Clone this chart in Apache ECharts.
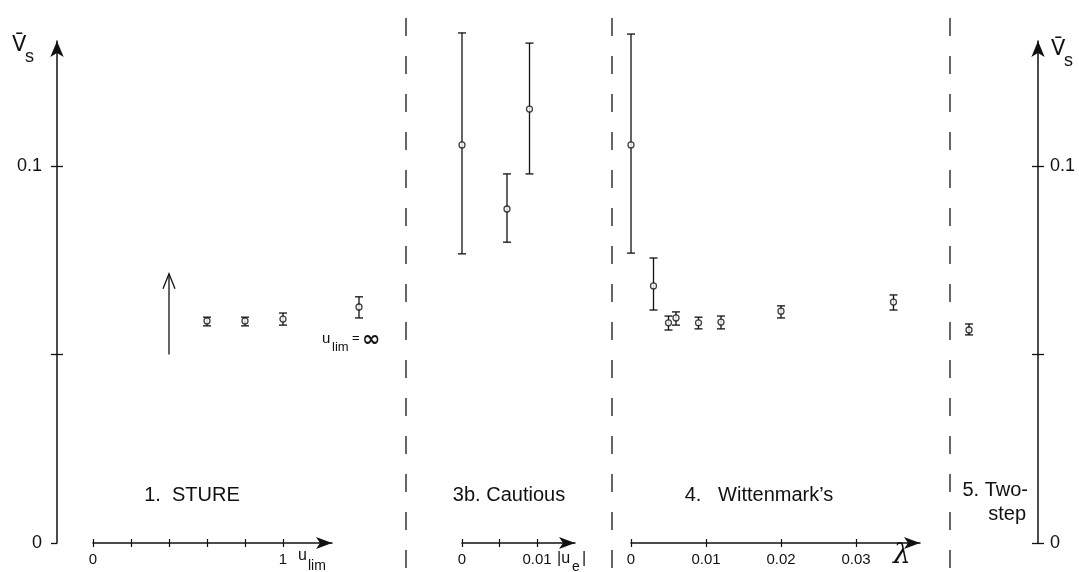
<!DOCTYPE html>
<html>
<head>
<meta charset="utf-8">
<script src="https://cdn.jsdelivr.net/npm/echarts@6/dist/echarts.min.js"></script>
<style>
html, body { margin: 0; background: #fff; }
#chart { width: 1079px; height: 572px; }
</style>
</head>
<body>
<div id="chart"></div>
<script>
/* V_s values, one set of arrays per panel */
var yTicks = [0, 0.05, 0.1];
var yLabels = [0, 0.1];

// 1. STURE  (last point is u_lim = inf, drawn right of the axis arrow)
var stureU  = [0.6, 0.8, 1.0, 1.4];
var stureV  = [0.0589, 0.0589, 0.0594, 0.0626];
var stureLo = [0.0576, 0.0576, 0.0578, 0.0597];
var stureHi = [0.0599, 0.0599, 0.0610, 0.0653];
var stureArrow = [0.4, 0.05, 0.0714];   // u, from, to
var stureTicks = [0, 0.2, 0.4, 0.6, 0.8, 1];
var stureLabels = [0, 1];

// 3b. Cautious
var cautU  = [0, 0.006, 0.009];
var cautV  = [0.1056, 0.0886, 0.1151];
var cautLo = [0.0767, 0.0798, 0.0979];
var cautHi = [0.1353, 0.0979, 0.1326];
var cautTicks = [0, 0.005, 0.01];
var cautLabels = [0, 0.01];

// 4. Wittenmark's
var wittL  = [0, 0.003, 0.005, 0.006, 0.009, 0.012, 0.02, 0.035];
var wittV  = [0.1056, 0.0682, 0.0584, 0.0597, 0.0584, 0.0586, 0.0615, 0.0639];
var wittLo = [0.0769, 0.0618, 0.0565, 0.0578, 0.0568, 0.0568, 0.0597, 0.0618];
var wittHi = [0.1350, 0.0756, 0.0602, 0.0613, 0.0599, 0.0602, 0.0629, 0.0658];
var wittTicks = [0, 0.01, 0.02, 0.03];

// 5. Two-step
var twoCat = ['Two-step'];
var twoV  = [0.0565];
var twoLo = [0.0552];
var twoHi = [0.0581];

var YMAX = 0.13316;
var INK = '#111';
var FONT = 'Liberation Sans';

/* helpers */
function errSeries(xi, yi, xs, lo, hi) {
    return {
        type: 'custom', xAxisIndex: xi, yAxisIndex: yi, clip: false, silent: true, z: 2,
        data: xs.map(function (x, i) { return [x, lo[i], hi[i]]; }),
        renderItem: function (params, api) {
            var a = api.coord([api.value(0), api.value(1)]);
            var b = api.coord([api.value(0), api.value(2)]);
            var w = 4, st = { stroke: INK, lineWidth: 1.3 };
            return { type: 'group', children: [
                { type: 'line', shape: { x1: a[0], y1: a[1], x2: b[0], y2: b[1] }, style: st },
                { type: 'line', shape: { x1: a[0] - w, y1: a[1], x2: a[0] + w, y2: a[1] }, style: st },
                { type: 'line', shape: { x1: b[0] - w, y1: b[1], x2: b[0] + w, y2: b[1] }, style: st }
            ]};
        }
    };
}
function dotSeries(xi, yi, xs, vs) {
    return {
        type: 'scatter', xAxisIndex: xi, yAxisIndex: yi, z: 3, silent: true,
        data: xs.map(function (x, i) { return [x, vs[i]]; }),
        symbol: 'circle', symbolSize: 6,
        itemStyle: { color: '#fff', borderColor: INK, borderWidth: 1.3 }
    };
}
function hiddenY(g) {
    return { type: 'value', gridIndex: g, min: 0, max: YMAX, show: false, splitLine: { show: false } };
}
function xMain(g, max, ticks, labels) {
    return {
        type: 'value', gridIndex: g, min: 0, max: max, position: 'bottom',
        axisLine: { show: true, symbol: ['none', 'arrow'], symbolSize: [9, 16], lineStyle: { color: INK, width: 1.5 } },
        axisTick: { show: true, customValues: ticks, length: 4, lineStyle: { color: INK, width: 1.2 } },
        axisLabel: { customValues: labels, color: INK, fontSize: 15, fontFamily: FONT, margin: 9 },
        splitLine: { show: false }
    };
}
function xInner(g, max, ticks) {
    return {
        type: 'value', gridIndex: g, min: 0, max: max, position: 'bottom',
        axisLine: { show: false },
        axisTick: { show: true, inside: true, customValues: ticks, length: 4, lineStyle: { color: INK, width: 1.2 } },
        axisLabel: { show: false }, splitLine: { show: false }
    };
}
function txt(x, y, s, size, extra) {
    var st = { text: s, x: x, y: y, fill: INK, font: size + 'px "' + FONT + '"', align: 'left', verticalAlign: 'middle' };
    for (var k in extra) st[k] = extra[k];
    return { type: 'text', silent: true, style: st };
}
function dash(x) {
    return { type: 'line', silent: true, shape: { x1: x, y1: 18, x2: x, y2: 572 },
        style: { stroke: '#333', lineWidth: 1.5, lineDash: [18, 20] } };
}

var grids = [
    { left: 57,  top: 41, width: 981, height: 502 },   // frame with both V_s axes
    { left: 93,  top: 41, width: 285, height: 502 },   // STURE data
    { left: 93,  top: 41, width: 239, height: 502 },   // u_lim axis
    { left: 462, top: 41, width: 113, height: 502 },   // |u_e| axis + data
    { left: 631, top: 41, width: 289, height: 502 },   // lambda axis + data
    { left: 955, top: 41, width: 28,  height: 502 }    // two-step
];
grids.forEach(function (g) { g.outerBoundsMode = 'none'; g.containLabel = false; });

var option = {
    backgroundColor: '#fff',
    animation: false,
    grid: grids,
    xAxis: [
        { type: 'value', gridIndex: 0, min: 0, max: 1, show: false, splitLine: { show: false } },
        { type: 'value', gridIndex: 1, min: 0, max: 1.5, show: false, splitLine: { show: false } },
        xMain(2, 239 / 190, stureTicks, stureLabels),
        xInner(2, 239 / 190, stureTicks),
        xMain(3, 0.113 / 7.5, cautTicks, cautLabels),
        xInner(3, 0.113 / 7.5, cautTicks),
        xMain(4, 0.289 / 7.5, wittTicks, wittTicks),
        xInner(4, 0.289 / 7.5, wittTicks),
        { type: 'category', gridIndex: 5, data: twoCat, show: false }
    ],
    yAxis: [
        {
            type: 'value', gridIndex: 0, min: 0, max: YMAX, position: 'left',
            axisLine: { show: true, symbol: ['none', 'arrow'], symbolSize: [10, 16], lineStyle: { color: INK, width: 1.5 } },
            axisTick: { show: true, customValues: yTicks, length: 6, lineStyle: { color: INK, width: 1.3 } },
            axisLabel: { customValues: yLabels, color: INK, fontSize: 18, fontFamily: FONT, margin: 15 },
            splitLine: { show: false }
        },
        {
            type: 'value', gridIndex: 0, min: 0, max: YMAX, position: 'right',
            axisLine: { show: true, symbol: ['none', 'arrow'], symbolSize: [10, 16], lineStyle: { color: INK, width: 1.5 } },
            axisTick: { show: true, customValues: yTicks, length: 6, lineStyle: { color: INK, width: 1.3 } },
            axisLabel: { customValues: yLabels, color: INK, fontSize: 18, fontFamily: FONT, margin: 12 },
            splitLine: { show: false }
        },
        {
            type: 'value', gridIndex: 0, min: 0, max: YMAX, position: 'left',
            axisLine: { show: false }, axisLabel: { show: false }, splitLine: { show: false },
            axisTick: { show: true, inside: true, customValues: [0.05, 0.1], length: 6, lineStyle: { color: INK, width: 1.3 } }
        },
        {
            type: 'value', gridIndex: 0, min: 0, max: YMAX, position: 'right',
            axisLine: { show: false }, axisLabel: { show: false }, splitLine: { show: false },
            axisTick: { show: true, inside: true, customValues: yTicks, length: 6, lineStyle: { color: INK, width: 1.3 } }
        },
        hiddenY(1), hiddenY(2), hiddenY(3), hiddenY(4), hiddenY(5)
    ],
    series: [
        errSeries(1, 4, stureU, stureLo, stureHi),
        dotSeries(1, 4, stureU, stureV),
        {
            type: 'custom', xAxisIndex: 1, yAxisIndex: 4, clip: false, silent: true,
            data: [stureArrow],
            renderItem: function (params, api) {
                var a = api.coord([api.value(0), api.value(1)]);
                var b = api.coord([api.value(0), api.value(2)]);
                var st = { stroke: INK, lineWidth: 1.3, fill: null };
                return { type: 'group', children: [
                    { type: 'line', shape: { x1: a[0], y1: a[1], x2: b[0], y2: b[1] }, style: st },
                    { type: 'polyline', shape: { points: [[b[0] - 6, b[1] + 15], [b[0], b[1]], [b[0] + 6, b[1] + 15]] }, style: st }
                ]};
            }
        },
        errSeries(4, 6, cautU, cautLo, cautHi),
        dotSeries(4, 6, cautU, cautV),
        errSeries(6, 7, wittL, wittLo, wittHi),
        dotSeries(6, 7, wittL, wittV),
        errSeries(8, 8, [0], twoLo, twoHi),
        dotSeries(8, 8, [0], twoV)
    ],
    graphic: [
        dash(406), dash(612), dash(950),
        // V_s axis names
        txt(12, 46, 'V\u0304', 21, { font: '21px "DejaVu Sans"' }),
        txt(25, 57, 's', 18),
        txt(1051, 50, 'V\u0304', 21, { font: '21px "DejaVu Sans"' }),
        txt(1064, 61, 's', 18),
        // x axis names
        txt(298, 556, 'u', 16),
        txt(308, 566, 'lim', 14),
        txt(557, 559, '|u', 16),
        txt(572, 567, 'e', 14),
        txt(582, 559, '|', 16),
        txt(893, 556, '\u03bb', 28, { font: 'italic 28px "DejaVu Serif"' }),
        // u_lim = infinity
        txt(322, 339, 'u', 15),
        txt(332, 347, 'lim', 13),
        txt(352, 338, '=', 13),
        txt(362, 340, '\u221e', 22, { font: 'bold 22px "DejaVu Sans"' }),
        // panel titles
        txt(192, 495, '1.  STURE', 20, { align: 'center' }),
        txt(509, 495, '3b. Cautious', 20, { align: 'center' }),
        txt(759, 495, '4.   Wittenmark\u2019s', 20, { align: 'center' }),
        txt(1028, 490, '5. Two-', 20, { align: 'right' }),
        txt(1026, 514, 'step', 20, { align: 'right' })
    ]
};

var chart = echarts.init(document.getElementById('chart'));
chart.setOption(option);
</script>
</body>
</html>
